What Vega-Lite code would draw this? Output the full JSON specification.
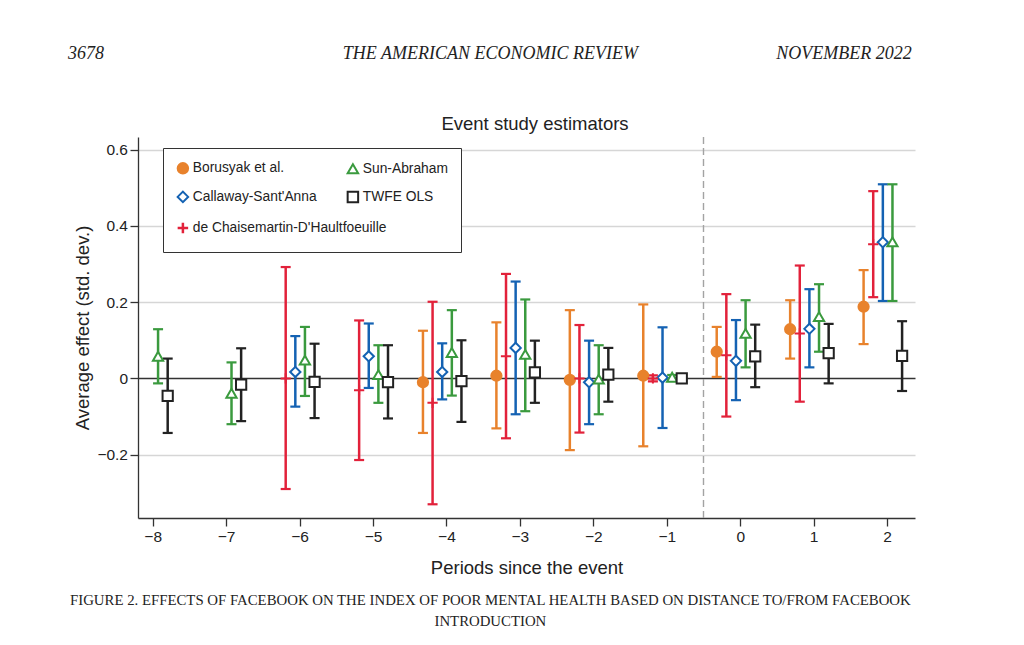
{
  "$schema": "https://vega.github.io/schema/vega-lite/v6.json",
  "width": 777,
  "height": 381,
  "autosize": {"type": "none"},
  "padding": {"left": 138, "top": 137, "right": 109, "bottom": 127},
  "background": "white",
  "datasets": {
    "estimates": [
      {"period": -8, "estimator": "Sun-Abraham", "est": 0.058, "lo": -0.013, "hi": 0.129},
      {"period": -8, "estimator": "TWFE OLS", "est": -0.046, "lo": -0.143, "hi": 0.052},
      {"period": -7, "estimator": "Sun-Abraham", "est": -0.039, "lo": -0.120, "hi": 0.042},
      {"period": -7, "estimator": "TWFE OLS", "est": -0.016, "lo": -0.112, "hi": 0.079},
      {"period": -6, "estimator": "de Chaisemartin-D'Haultfoeuille", "est": 0.000, "lo": -0.290, "hi": 0.292},
      {"period": -6, "estimator": "Callaway-Sant'Anna", "est": 0.017, "lo": -0.074, "hi": 0.111},
      {"period": -6, "estimator": "Sun-Abraham", "est": 0.048, "lo": -0.046, "hi": 0.135},
      {"period": -6, "estimator": "TWFE OLS", "est": -0.009, "lo": -0.104, "hi": 0.091},
      {"period": -5, "estimator": "de Chaisemartin-D'Haultfoeuille", "est": -0.031, "lo": -0.214, "hi": 0.152},
      {"period": -5, "estimator": "Callaway-Sant'Anna", "est": 0.058, "lo": -0.025, "hi": 0.144},
      {"period": -5, "estimator": "Sun-Abraham", "est": 0.010, "lo": -0.064, "hi": 0.087},
      {"period": -5, "estimator": "TWFE OLS", "est": -0.010, "lo": -0.105, "hi": 0.087},
      {"period": -4, "estimator": "Borusyak et al.", "est": -0.010, "lo": -0.143, "hi": 0.125},
      {"period": -4, "estimator": "de Chaisemartin-D'Haultfoeuille", "est": -0.064, "lo": -0.330, "hi": 0.201},
      {"period": -4, "estimator": "Callaway-Sant'Anna", "est": 0.017, "lo": -0.055, "hi": 0.092},
      {"period": -4, "estimator": "Sun-Abraham", "est": 0.068, "lo": -0.045, "hi": 0.179},
      {"period": -4, "estimator": "TWFE OLS", "est": -0.007, "lo": -0.114, "hi": 0.100},
      {"period": -3, "estimator": "Borusyak et al.", "est": 0.007, "lo": -0.131, "hi": 0.147},
      {"period": -3, "estimator": "de Chaisemartin-D'Haultfoeuille", "est": 0.058, "lo": -0.157, "hi": 0.274},
      {"period": -3, "estimator": "Callaway-Sant'Anna", "est": 0.080, "lo": -0.094, "hi": 0.254},
      {"period": -3, "estimator": "Sun-Abraham", "est": 0.063, "lo": -0.086, "hi": 0.207},
      {"period": -3, "estimator": "TWFE OLS", "est": 0.016, "lo": -0.064, "hi": 0.099},
      {"period": -2, "estimator": "Borusyak et al.", "est": -0.004, "lo": -0.188, "hi": 0.179},
      {"period": -2, "estimator": "de Chaisemartin-D'Haultfoeuille", "est": 0.000, "lo": -0.142, "hi": 0.140},
      {"period": -2, "estimator": "Callaway-Sant'Anna", "est": -0.010, "lo": -0.120, "hi": 0.099},
      {"period": -2, "estimator": "Sun-Abraham", "est": -0.002, "lo": -0.094, "hi": 0.087},
      {"period": -2, "estimator": "TWFE OLS", "est": 0.010, "lo": -0.061, "hi": 0.080},
      {"period": -1, "estimator": "Borusyak et al.", "est": 0.007, "lo": -0.178, "hi": 0.194},
      {"period": -1, "estimator": "de Chaisemartin-D'Haultfoeuille", "est": 0.000, "lo": -0.008, "hi": 0.008},
      {"period": -1, "estimator": "Callaway-Sant'Anna", "est": 0.002, "lo": -0.130, "hi": 0.134},
      {"period": -1, "estimator": "Sun-Abraham", "est": 0.003, "lo": -0.003, "hi": 0.009},
      {"period": -1, "estimator": "TWFE OLS", "est": 0.000, "lo": 0.000, "hi": 0.000},
      {"period": 0, "estimator": "Borusyak et al.", "est": 0.070, "lo": 0.004, "hi": 0.135},
      {"period": 0, "estimator": "de Chaisemartin-D'Haultfoeuille", "est": 0.061, "lo": -0.100, "hi": 0.221},
      {"period": 0, "estimator": "Callaway-Sant'Anna", "est": 0.046, "lo": -0.057, "hi": 0.153},
      {"period": 0, "estimator": "Sun-Abraham", "est": 0.118, "lo": 0.029, "hi": 0.205},
      {"period": 0, "estimator": "TWFE OLS", "est": 0.058, "lo": -0.023, "hi": 0.141},
      {"period": 1, "estimator": "Borusyak et al.", "est": 0.129, "lo": 0.052, "hi": 0.205},
      {"period": 1, "estimator": "de Chaisemartin-D'Haultfoeuille", "est": 0.118, "lo": -0.061, "hi": 0.296},
      {"period": 1, "estimator": "Callaway-Sant'Anna", "est": 0.130, "lo": 0.029, "hi": 0.234},
      {"period": 1, "estimator": "Sun-Abraham", "est": 0.162, "lo": 0.070, "hi": 0.247},
      {"period": 1, "estimator": "TWFE OLS", "est": 0.066, "lo": -0.013, "hi": 0.143},
      {"period": 2, "estimator": "Borusyak et al.", "est": 0.188, "lo": 0.090, "hi": 0.284},
      {"period": 2, "estimator": "de Chaisemartin-D'Haultfoeuille", "est": 0.352, "lo": 0.213, "hi": 0.491},
      {"period": 2, "estimator": "Callaway-Sant'Anna", "est": 0.357, "lo": 0.203, "hi": 0.509},
      {"period": 2, "estimator": "Sun-Abraham", "est": 0.358, "lo": 0.203, "hi": 0.509},
      {"period": 2, "estimator": "TWFE OLS", "est": 0.059, "lo": -0.033, "hi": 0.150}
    ]
  },
  "config": {
    "font": "Liberation Sans",
    "view": {"stroke": null},
    "axis": {
      "domainColor": "#333333",
      "domainWidth": 1.3,
      "tickColor": "#333333",
      "tickWidth": 1.3,
      "tickSize": 8,
      "labelFont": "Liberation Sans",
      "labelFontSize": 15.5,
      "labelColor": "#222222",
      "labelPadding": 3,
      "titleFont": "Liberation Sans",
      "titleFontSize": 18.5,
      "titleFontWeight": "normal",
      "titleColor": "#222222"
    },
    "legend": {
      "strokeColor": "#333333",
      "fillColor": "white",
      "labelFont": "Liberation Sans",
      "labelFontSize": 13.8,
      "labelColor": "#222222",
      "labelOffset": 3,
      "labelLimit": 400,
      "symbolSize": 110,
      "symbolStrokeWidth": 2
    }
  },
  "layer": [
    {
      "data": {"values": [{"boundary": -0.5}]},
      "mark": {"type": "rule", "color": "#a3a3a3", "strokeWidth": 1.4, "strokeDash": [7, 4]},
      "encoding": {
        "x": {
          "field": "boundary",
          "type": "quantitative",
          "title": "Periods since the event",
          "scale": {"domain": [-8.2, 2.38], "nice": false, "zero": false},
          "axis": {
            "values": [-8, -7, -6, -5, -4, -3, -2, -1, 0, 1, 2],
            "format": "d",
            "grid": false,
            "titlePadding": 14
          }
        }
      }
    },
    {
      "data": {"name": "estimates"},
      "encoding": {
        "x": {"field": "period", "type": "quantitative", "title": "Periods since the event"}
      },
      "layer": [
        {
          "mark": {
            "type": "rule",
            "strokeWidth": 2.5,
            "xOffset": {"expr": "indexof([\"Borusyak et al.\", \"de Chaisemartin-D'Haultfoeuille\", \"Callaway-Sant'Anna\", \"Sun-Abraham\", \"TWFE OLS\"], datum.estimator) * 9.625 - 23.5"}
          },
          "encoding": {
            "y": {
              "field": "lo",
              "type": "quantitative",
              "title": "Average effect (std. dev.)",
              "scale": {"domain": [-0.366, 0.633], "nice": false, "zero": false},
              "axis": {
                "values": [-0.2, 0, 0.2, 0.4, 0.6],
                "format": ".1~f",
                "grid": true,
                "gridColor": {"condition": {"test": "datum.value === 0", "value": "#333333"}, "value": "#d6d6d6"},
                "gridWidth": 1.3,
                "labelPadding": 2.5,
                "titlePadding": 4
              }
            },
            "y2": {"field": "hi"},
            "color": {
              "field": "estimator",
              "type": "nominal",
              "scale": {
                "domain": ["Borusyak et al.", "de Chaisemartin-D'Haultfoeuille", "Callaway-Sant'Anna", "Sun-Abraham", "TWFE OLS"],
                "range": ["#e8822c", "#e2213a", "#1462b3", "#3a9a3e", "#222222"]
              },
              "legend": null
            }
          }
        },
        {
          "mark": {
            "type": "tick",
            "orient": "horizontal",
            "size": 10,
            "thickness": 2.2,
            "opacity": 1,
            "xOffset": {"expr": "indexof([\"Borusyak et al.\", \"de Chaisemartin-D'Haultfoeuille\", \"Callaway-Sant'Anna\", \"Sun-Abraham\", \"TWFE OLS\"], datum.estimator) * 9.625 - 23.5"}
          },
          "encoding": {
            "y": {"field": "lo", "type": "quantitative", "title": "Average effect (std. dev.)"},
            "color": {"field": "estimator", "type": "nominal", "legend": null}
          }
        },
        {
          "mark": {
            "type": "tick",
            "orient": "horizontal",
            "size": 10,
            "thickness": 2.2,
            "opacity": 1,
            "xOffset": {"expr": "indexof([\"Borusyak et al.\", \"de Chaisemartin-D'Haultfoeuille\", \"Callaway-Sant'Anna\", \"Sun-Abraham\", \"TWFE OLS\"], datum.estimator) * 9.625 - 23.5"}
          },
          "encoding": {
            "y": {"field": "hi", "type": "quantitative", "title": "Average effect (std. dev.)"},
            "color": {"field": "estimator", "type": "nominal", "legend": null}
          }
        },
        {
          "transform": [{"filter": {"not": {"field": "estimator", "equal": "de Chaisemartin-D'Haultfoeuille"}}}],
          "mark": {
            "type": "point",
            "size": 105,
            "strokeWidth": 2,
            "opacity": 1,
            "xOffset": {"expr": "indexof([\"Borusyak et al.\", \"de Chaisemartin-D'Haultfoeuille\", \"Callaway-Sant'Anna\", \"Sun-Abraham\", \"TWFE OLS\"], datum.estimator) * 9.625 - 23.5"}
          },
          "encoding": {
            "y": {"field": "est", "type": "quantitative", "title": "Average effect (std. dev.)"},
            "stroke": {
              "field": "estimator",
              "type": "nominal",
              "scale": {
                "domain": ["Borusyak et al.", "Callaway-Sant'Anna", "Sun-Abraham", "TWFE OLS"],
                "range": ["#e8822c", "#1462b3", "#3a9a3e", "#222222"]
              },
              "legend": {"title": "\u00a0", "titleOrient": "bottom", "titleFontSize": 14, "titlePadding": 19, "orient": "none", "legendX": 25, "legendY": 11, "columns": 2, "columnPadding": 26, "rowPadding": 9, "padding": 13, "zindex": 1}
            },
            "fill": {
              "field": "estimator",
              "type": "nominal",
              "scale": {
                "domain": ["Borusyak et al.", "Callaway-Sant'Anna", "Sun-Abraham", "TWFE OLS"],
                "range": ["#e8822c", "white", "white", "white"]
              },
              "legend": {"title": "\u00a0", "titleOrient": "bottom", "titleFontSize": 14, "titlePadding": 19, "orient": "none", "legendX": 25, "legendY": 11, "columns": 2, "columnPadding": 26, "rowPadding": 9, "padding": 13, "zindex": 1}
            },
            "shape": {
              "field": "estimator",
              "type": "nominal",
              "scale": {
                "domain": ["Borusyak et al.", "Callaway-Sant'Anna", "Sun-Abraham", "TWFE OLS"],
                "range": ["circle", "diamond", "triangle-up", "square"]
              },
              "legend": {"title": "\u00a0", "titleOrient": "bottom", "titleFontSize": 14, "titlePadding": 19, "orient": "none", "legendX": 25, "legendY": 11, "columns": 2, "columnPadding": 26, "rowPadding": 9, "padding": 13, "zindex": 1}
            }
          }
        },
        {
          "transform": [{"filter": {"field": "estimator", "equal": "de Chaisemartin-D'Haultfoeuille"}}],
          "mark": {
            "type": "point",
            "shape": "M-1,0H1M0,-1V1",
            "filled": false,
            "color": "#e2213a",
            "size": 105,
            "strokeWidth": 2,
            "xOffset": {"expr": "indexof([\"Borusyak et al.\", \"de Chaisemartin-D'Haultfoeuille\", \"Callaway-Sant'Anna\", \"Sun-Abraham\", \"TWFE OLS\"], datum.estimator) * 9.625 - 23.5"}
          },
          "encoding": {
            "y": {"field": "est", "type": "quantitative", "title": "Average effect (std. dev.)"},
            "opacity": {
              "field": "estimator",
              "type": "nominal",
              "scale": {"domain": ["de Chaisemartin-D'Haultfoeuille"], "range": [1]},
              "legend": {
                "title": null,
                "orient": "none",
                "legendX": 38,
                "legendY": 84,
                "padding": 0,
                "strokeColor": "transparent",
                "fillColor": "transparent",
                "symbolType": "M-1,0H1M0,-1V1",
                "symbolStrokeColor": "#e2213a",
                "symbolFillColor": "transparent",
                "symbolStrokeWidth": 2.5,
                "zindex": 2
              }
            }
          }
        }
      ]
    },
    {
      "data": {"values": [{"note": "Event study estimators"}]},
      "mark": {"type": "text", "align": "center", "baseline": "alphabetic", "font": "Liberation Sans", "fontSize": 18.5, "color": "#222222"},
      "encoding": {
        "x": {"datum": -2.794, "type": "quantitative", "title": "Periods since the event"},
        "y": {"datum": 0.652, "type": "quantitative", "title": "Average effect (std. dev.)"},
        "text": {"field": "note"}
      }
    },
    {
      "data": {"values": [{"note": "3678"}]},
      "mark": {"type": "text", "align": "left", "baseline": "alphabetic", "font": "Liberation Serif", "fontStyle": "italic", "fontSize": 18, "color": "#222222"},
      "encoding": {
        "x": {"datum": -9.153, "type": "quantitative", "title": "Periods since the event"},
        "y": {"datum": 0.8375, "type": "quantitative", "title": "Average effect (std. dev.)"},
        "text": {"field": "note"}
      }
    },
    {
      "data": {"values": [{"note": "THE AMERICAN ECONOMIC REVIEW"}]},
      "mark": {"type": "text", "align": "center", "baseline": "alphabetic", "font": "Liberation Serif", "fontStyle": "italic", "fontSize": 18, "color": "#222222"},
      "encoding": {
        "x": {"datum": -3.402, "type": "quantitative", "title": "Periods since the event"},
        "y": {"datum": 0.8375, "type": "quantitative", "title": "Average effect (std. dev.)"},
        "text": {"field": "note"}
      }
    },
    {
      "data": {"values": [{"note": "NOVEMBER 2022"}]},
      "mark": {"type": "text", "align": "right", "baseline": "alphabetic", "font": "Liberation Serif", "fontStyle": "italic", "fontSize": 18, "color": "#222222"},
      "encoding": {
        "x": {"datum": 2.336, "type": "quantitative", "title": "Periods since the event"},
        "y": {"datum": 0.8375, "type": "quantitative", "title": "Average effect (std. dev.)"},
        "text": {"field": "note"}
      }
    },
    {
      "data": {"values": [{"note": "FIGURE 2. EFFECTS OF FACEBOOK ON THE INDEX OF POOR MENTAL HEALTH BASED ON DISTANCE TO/FROM FACEBOOK"}]},
      "mark": {"type": "text", "align": "center", "baseline": "alphabetic", "font": "Liberation Serif", "fontSize": 14.8, "color": "#222222"},
      "encoding": {
        "x": {"datum": -3.402, "type": "quantitative", "title": "Periods since the event"},
        "y": {"datum": -0.594, "type": "quantitative", "title": "Average effect (std. dev.)"},
        "text": {"field": "note"}
      }
    },
    {
      "data": {"values": [{"note": "INTRODUCTION"}]},
      "mark": {"type": "text", "align": "center", "baseline": "alphabetic", "font": "Liberation Serif", "fontSize": 14.8, "color": "#222222"},
      "encoding": {
        "x": {"datum": -3.402, "type": "quantitative", "title": "Periods since the event"},
        "y": {"datum": -0.649, "type": "quantitative", "title": "Average effect (std. dev.)"},
        "text": {"field": "note"}
      }
    }
  ]
}
